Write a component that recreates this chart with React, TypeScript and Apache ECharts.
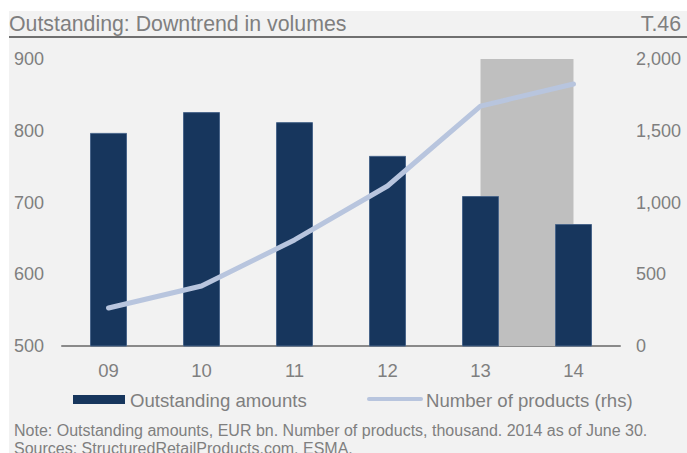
import React, { useEffect, useRef } from "react";
import * as echarts from "echarts";

const categories = ["09", "10", "11", "12", "13", "14"];
const outstandingAmounts = [797, 826, 812, 765, 709, 670];
const numberOfProducts = [265, 418, 739, 1115, 1672, 1826];
const leftTicks = { min: 500, max: 900, interval: 100 };
const rightTicks = { min: 0, max: 2000, interval: 500 };
const shadeFrom = "13";
const shadeTo = "14";
const seriesNames = ["Outstanding amounts", "Number of products (rhs)"];
const titleText = "Outstanding: Downtrend in volumes";
const tagText = "T.46";
const noteLines = [
  "Note: Outstanding amounts, EUR bn. Number of products, thousand. 2014 as of June 30.",
  "Sources: StructuredRetailProducts.com, ESMA.",
];

const FONT = "'Liberation Sans', Arial, sans-serif";
const GREY = "#7f7f7f";
const NAVY = "#17365d";
const LINE = "#b8c5de";

export default function App() {
  const ref = useRef<HTMLDivElement>(null);
  useEffect(() => {
    if (!ref.current) return;
    const chart = echarts.init(ref.current, undefined, { renderer: "svg" });
    const fromIdx = categories.indexOf(shadeFrom);
    const toIdx = categories.indexOf(shadeTo);
    chart.setOption({
      animation: false,
      backgroundColor: "#f2f2f2",
      textStyle: { fontFamily: FONT },
      grid: { left: 53, right: 67, top: 48, bottom: 107 },
      xAxis: [
        {
          type: "category",
          data: categories,
          axisLine: { lineStyle: { color: "#8a8a8a", width: 2 } },
          axisTick: { show: false },
          axisLabel: { color: GREY, fontSize: 18.5, margin: 15, fontFamily: FONT },
        },
        {
          type: "value",
          min: -0.5,
          max: categories.length - 0.5,
          show: false,
        },
      ],
      yAxis: [
        {
          type: "value",
          min: leftTicks.min,
          max: leftTicks.max,
          interval: leftTicks.interval,
          splitLine: { show: false },
          axisLine: { show: false },
          axisTick: { show: false },
          axisLabel: { color: GREY, fontSize: 18, margin: 18, fontFamily: FONT },
        },
        {
          type: "value",
          min: rightTicks.min,
          max: rightTicks.max,
          interval: rightTicks.interval,
          splitLine: { show: false },
          axisLine: { show: false },
          axisTick: { show: false },
          axisLabel: {
            color: GREY,
            fontSize: 18,
            margin: 16,
            fontFamily: FONT,
            formatter: (v: number) => v.toLocaleString("en-US"),
          },
        },
      ],
      series: [
        {
          name: "shade",
          type: "line",
          xAxisIndex: 1,
          yAxisIndex: 0,
          data: [],
          z: 1,
          markArea: {
            silent: true,
            itemStyle: { color: "#bfbfbf" },
            data: [
              [
                { xAxis: fromIdx, yAxis: leftTicks.max },
                { xAxis: toIdx, yAxis: leftTicks.min },
              ],
            ],
          },
        },
        {
          name: seriesNames[0],
          type: "bar",
          data: outstandingAmounts,
          barWidth: 37,
          z: 2,
          itemStyle: { color: NAVY, borderColor: "#49658a", borderWidth: 1 },
        },
        {
          name: seriesNames[1],
          type: "line",
          yAxisIndex: 1,
          data: numberOfProducts,
          symbol: "none",
          z: 3,
          lineStyle: { color: LINE, width: 5, cap: "round" },
        },
      ],
      graphic: [
        {
          type: "text",
          left: 0,
          top: 2,
          style: { text: titleText, fill: GREY, fontSize: 21.3, fontFamily: FONT },
        },
        {
          type: "text",
          right: 6,
          top: 2,
          style: { text: tagText, fill: GREY, fontSize: 21.3, fontFamily: FONT },
        },
        {
          type: "rect",
          shape: { x: 0, y: 25, width: 678, height: 2 },
          style: { fill: "#707070" },
        },
        {
          type: "rect",
          shape: { x: 64, y: 384, width: 52, height: 9 },
          style: { fill: NAVY },
        },
        {
          type: "text",
          x: 121,
          y: 389,
          style: { text: seriesNames[0], fill: GREY, fontSize: 18.6, fontFamily: FONT, verticalAlign: "middle" },
        },
        {
          type: "line",
          shape: { x1: 360, y1: 388, x2: 412, y2: 388 },
          style: { stroke: LINE, lineWidth: 4, lineCap: "round" },
        },
        {
          type: "text",
          x: 417,
          y: 389,
          style: { text: seriesNames[1], fill: GREY, fontSize: 18.6, fontFamily: FONT, verticalAlign: "middle" },
        },
        {
          type: "text",
          left: 5,
          top: 411,
          style: { text: noteLines[0], fill: GREY, fontSize: 16, fontFamily: FONT },
        },
        {
          type: "text",
          left: 5,
          top: 429,
          style: { text: noteLines[1], fill: GREY, fontSize: 16, fontFamily: FONT },
        },
      ],
    });
    return () => chart.dispose();
  }, []);
  return (
    <div style={{ position: "absolute", left: 0, top: 0, width: 687, height: 453, background: "#ffffff", overflow: "hidden" }}>
      <div ref={ref} style={{ position: "absolute", left: 9, top: 11, width: 678, height: 442 }} />
    </div>
  );
}
